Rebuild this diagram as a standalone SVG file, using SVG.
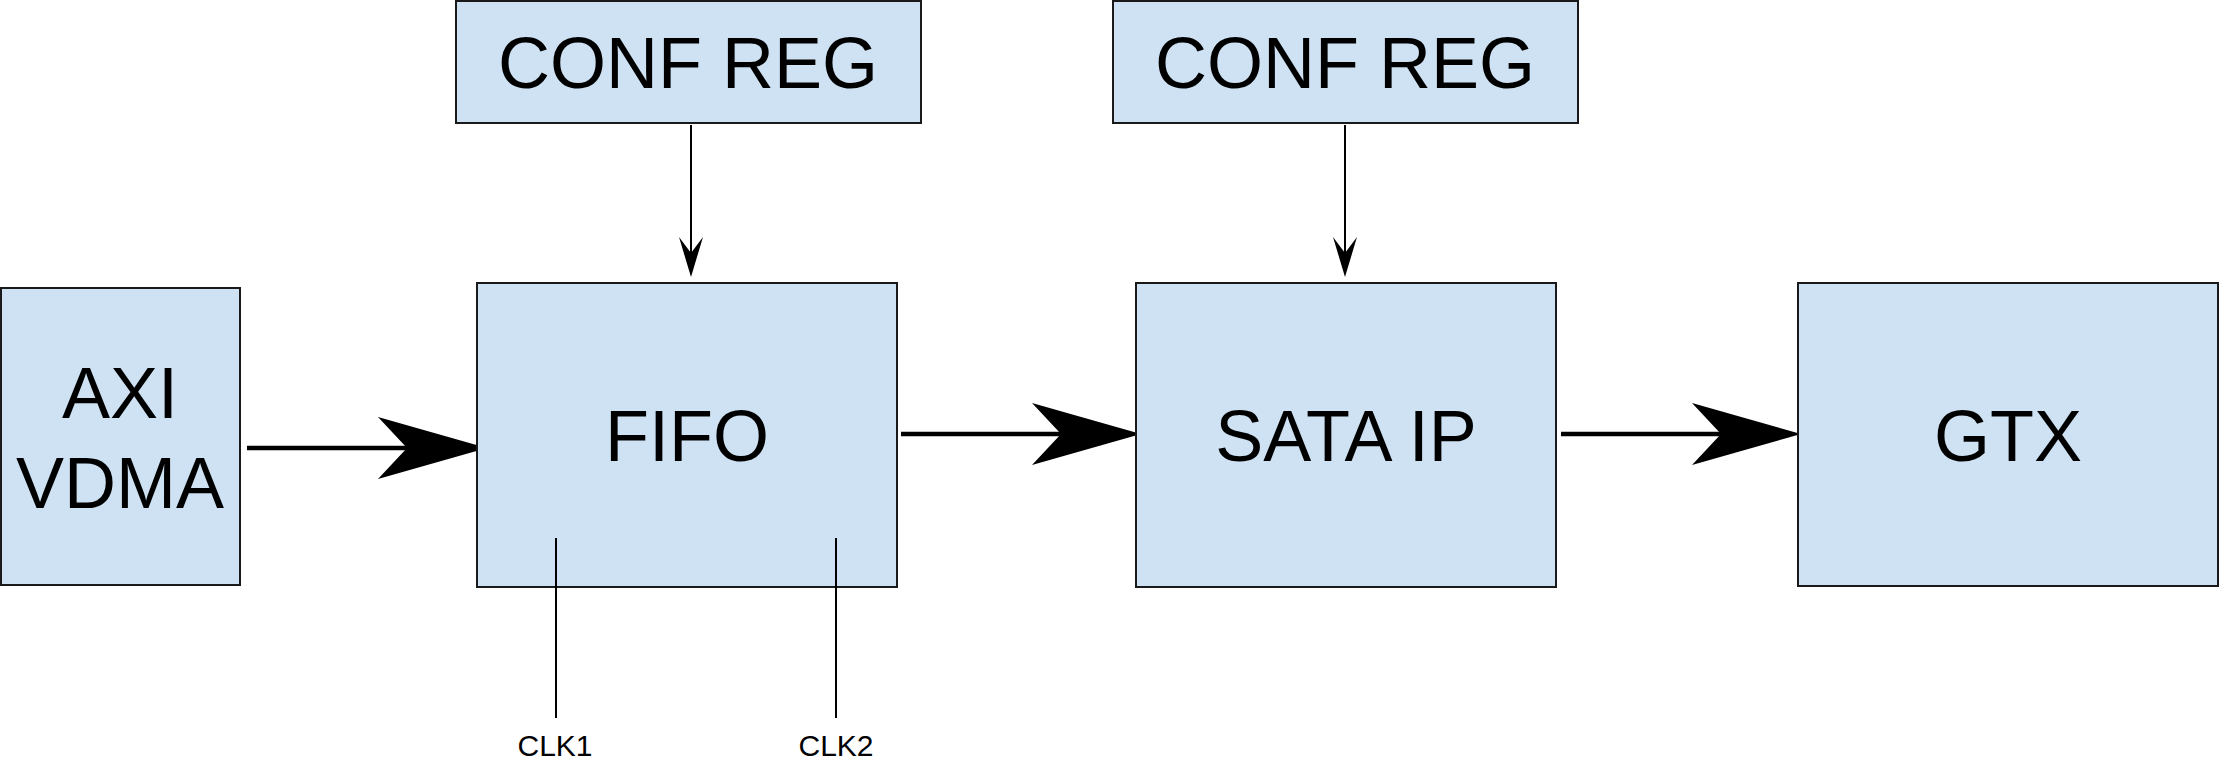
<svg xmlns="http://www.w3.org/2000/svg" xmlns:xlink="http://www.w3.org/1999/xlink" width="2219" height="759" viewBox="0 0 2219 759">
<style>
.box{fill:#cfe2f3;stroke:#1a1a1a;stroke-width:2}
.lbl{font-family:"Liberation Sans",Arial,sans-serif;font-size:72px;fill:#000;text-anchor:middle}
.clk{font-family:"Liberation Sans",Arial,sans-serif;font-size:30px;fill:#000;text-anchor:middle}
.big{stroke:#000;stroke-width:4.7;fill:none}
.thin{stroke:#000;stroke-width:2;fill:none}
.head{fill:#000}
</style>
<defs>
<path id="bigHead" class="head" d="M0,0 L-109,-31 L-80,0 L-109,31 Z"/>
<path id="smallHead" class="head" d="M0,0 L-12,-40 L0,-24 L12,-40 Z"/>
</defs>
<rect width="2219" height="759" fill="#fff"/>
<g id="connectors">
<line class="big" x1="247" y1="448" x2="410" y2="448"/>
<use xlink:href="#bigHead" transform="translate(487,448)"/>
<line class="big" x1="901" y1="434" x2="1063" y2="434"/>
<use xlink:href="#bigHead" transform="translate(1141,434)"/>
<line class="big" x1="1561" y1="434" x2="1723" y2="434"/>
<use xlink:href="#bigHead" transform="translate(1801,434)"/>
<line class="thin" x1="691" y1="125" x2="691" y2="255"/>
<use xlink:href="#smallHead" transform="translate(691,277)"/>
<line class="thin" x1="1345" y1="125" x2="1345" y2="255"/>
<use xlink:href="#smallHead" transform="translate(1345,277)"/>
</g>
<g id="axi">
<rect class="box" x="1" y="288" width="239" height="297"/>
<text class="lbl" x="120" y="418">AXI</text>
<text class="lbl" x="120" y="508">VDMA</text>
</g>
<g id="conf1">
<rect class="box" x="456" y="1" width="465" height="122"/>
<text class="lbl" x="688" y="88">CONF REG</text>
</g>
<g id="conf2">
<rect class="box" x="1113" y="1" width="465" height="122"/>
<text class="lbl" x="1345" y="88">CONF REG</text>
</g>
<g id="fifo">
<rect class="box" x="477" y="283" width="420" height="304"/>
<text class="lbl" x="687" y="461">FIFO</text>
</g>
<g id="sata">
<rect class="box" x="1136" y="283" width="420" height="304"/>
<text class="lbl" x="1346" y="461">SATA IP</text>
</g>
<g id="gtx">
<rect class="box" x="1798" y="283" width="420" height="303"/>
<text class="lbl" x="2008" y="461">GTX</text>
</g>
<g id="clocks">
<line class="thin" x1="556" y1="538" x2="556" y2="718"/>
<line class="thin" x1="836" y1="538" x2="836" y2="718"/>
<text class="clk" x="555" y="756">CLK1</text>
<text class="clk" x="836" y="756">CLK2</text>
</g>
</svg>
